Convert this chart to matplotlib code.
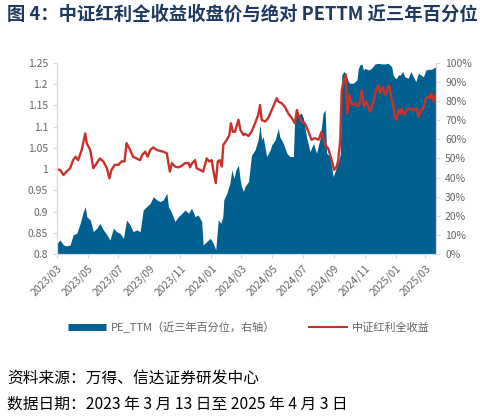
import numpy as np
import pandas as pd
import matplotlib
matplotlib.use("Agg")
import matplotlib.pyplot as plt
from matplotlib.lines import Line2D

plt.rcParams['font.family'] = ['Noto Sans CJK SC', 'DejaVu Sans']

start = pd.Timestamp('2023-03-13')

# 中证红利全收益 (left axis) : days since 2023-03-13, value
red_day = [0, 6, 13, 19, 26, 32, 37, 42, 49, 56, 59, 66, 72, 79, 85, 92, 99, 104, 108, 115,
           122, 128, 134, 138, 145, 151, 158, 165, 169, 175, 180, 185, 191, 198, 204, 211, 218,
           221, 224, 228, 234, 241, 247, 254, 261, 264, 267, 274, 277, 284, 290, 297, 302, 307,
           310, 315, 319, 323, 327, 330, 337, 342, 345, 349, 353, 358, 360, 364, 370, 373, 380,
           386, 393, 399, 403, 406, 413, 419, 426, 433, 436, 439, 446, 452, 459, 466, 472, 476,
           479, 485, 492, 499, 505, 512, 519, 525, 532, 538, 545, 550, 555, 558, 562, 565, 568,
           573, 576, 580, 585, 591, 598, 601, 605, 609, 614, 621, 628, 633, 638, 641, 646, 651,
           654, 659, 664, 667, 671, 674, 677, 681, 684, 689, 694, 700, 707, 714, 717, 722, 727,
           732, 737, 740, 743, 748, 752]
red_val = [0.999, 0.998, 0.986, 0.994, 1.002, 1.021, 1.029, 1.021, 1.045, 1.084, 1.061, 1.045,
           1.002, 1.014, 1.025, 1.018, 1.002, 0.978, 0.998, 1.010, 1.010, 1.018, 1.018, 1.061,
           1.045, 1.029, 1.025, 1.021, 1.033, 1.041, 1.029, 1.045, 1.051, 1.045, 1.043, 1.041,
           1.037, 1.014, 0.994, 1.014, 1.006, 1.004, 1.007, 1.014, 1.014, 1.004, 1.012, 1.021,
           1.002, 0.998, 0.994, 1.025, 1.018, 1.021, 0.998, 0.967, 1.018, 1.021, 1.006, 1.057,
           1.069, 1.080, 1.108, 1.088, 1.088, 1.108, 1.116, 1.092, 1.080, 1.083, 1.078, 1.088,
           1.108, 1.127, 1.151, 1.116, 1.112, 1.120, 1.139, 1.159, 1.167, 1.159, 1.155, 1.147,
           1.131, 1.120, 1.108, 1.139, 1.127, 1.112, 1.108, 1.088, 1.069, 1.073, 1.069, 1.088,
           1.057, 1.049, 1.021, 0.998, 1.006, 1.021, 1.069, 1.186, 1.202, 1.222, 1.131, 1.175,
           1.151, 1.155, 1.147, 1.159, 1.186, 1.147, 1.159, 1.135, 1.159, 1.186, 1.198, 1.179,
           1.194, 1.175, 1.182, 1.198, 1.163, 1.151, 1.120, 1.116, 1.139, 1.131, 1.143, 1.127,
           1.139, 1.143, 1.139, 1.143, 1.122, 1.139, 1.143, 1.167, 1.171, 1.167, 1.179, 1.159,
           1.175]

# PE_TTM 近三年百分位 (right axis, %) : days since 2023-03-13, value
pe_day = [0, 6, 13, 19, 26, 32, 39, 46, 52, 56, 59, 66, 72, 79, 85, 92, 99, 105, 112, 118,
          125, 132, 138, 145, 151, 158, 165, 171, 178, 185, 191, 198, 204, 211, 214, 218, 221,
          228, 234, 241, 247, 254, 261, 267, 274, 280, 287, 290, 297, 304, 310, 315, 320, 325,
          329, 331, 337, 343, 347, 351, 355, 360, 363, 366, 370, 373, 380, 386, 393, 399, 403,
          406, 409, 416, 423, 426, 433, 439, 442, 449, 456, 462, 469, 472, 479, 485, 489, 495,
          502, 509, 515, 522, 528, 532, 535, 542, 548, 555, 558, 562, 565, 569, 573, 578, 581,
          588, 595, 598, 601, 605, 608, 611, 618, 624, 631, 638, 644, 651, 657, 664, 667, 671,
          674, 677, 681, 686, 690, 697, 702, 707, 712, 717, 722, 727, 732, 737, 743, 750, 752]
pe_val = [5.6, 7.3, 4.7, 4.2, 4.7, 10.0, 10.8, 16.0, 22.0, 24.8, 19.6, 17.8, 11.7, 13.5, 16.0,
          12.6, 10.0, 7.3, 13.5, 11.7, 10.8, 8.2, 17.8, 15.2, 11.7, 12.6, 11.7, 23.0, 24.8, 26.5,
          30.0, 28.3, 27.4, 28.3, 30.0, 31.8, 24.8, 21.3, 17.0, 19.6, 21.0, 23.0, 21.3, 24.0,
          19.6, 20.4, 17.0, 4.7, 6.5, 8.2, 5.6, 2.1, 17.8, 16.0, 19.6, 28.3, 31.8, 37.0, 44.0,
          39.6, 44.0, 46.6, 39.6, 35.3, 32.7, 35.3, 37.9, 51.8, 54.5, 59.7, 67.5, 59.7, 61.4,
          51.0, 54.5, 57.1, 59.7, 65.8, 61.4, 57.9, 52.7, 51.0, 51.0, 73.7, 72.8, 73.7, 71.0,
          61.4, 53.6, 57.9, 52.7, 60.6, 73.7, 75.4, 52.7, 51.0, 40.5, 45.7, 48.0, 52.0, 93.7,
          95.5, 94.6, 90.2, 89.4, 89.4, 91.1, 97.2, 99.0, 99.5, 96.3, 97.2, 96.3, 97.2, 99.5,
          99.8, 99.5, 99.5, 99.8, 98.1, 93.7, 92.0, 92.0, 93.7, 93.7, 95.5, 92.8, 92.0, 95.5,
          92.8, 90.2, 94.6, 93.7, 92.8, 96.3, 96.7, 96.7, 97.8, 97.8]

red_dates = start + pd.to_timedelta(red_day, unit='D')
pe_dates = start + pd.to_timedelta(pe_day, unit='D')
end = start + pd.Timedelta(days=752)

blue = '#00608F'
red = '#C8312C'
grey = '#666666'
axis_grey = '#D9D9D9'

fig = plt.figure(figsize=(4.93, 4.17), dpi=100)
ax1 = fig.add_axes([0.1156, 0.391, 0.7688, 0.458])
ax2 = ax1.twinx()
ax1.set_zorder(ax2.get_zorder() + 1)
ax1.patch.set_visible(False)

ax2.fill_between(pe_dates, 0, pe_val, color=blue, linewidth=0)
ax1.plot(red_dates, red_val, color=red, linewidth=1.7)

ax1.set_xlim(start, end)
ax1.set_ylim(0.8, 1.25)
ax2.set_ylim(0, 100)

ax1.set_yticks(np.arange(0.8, 1.2501, 0.05))
ax1.set_yticklabels(['0.8', '0.85', '0.9', '0.95', '1', '1.05', '1.1', '1.15', '1.2', '1.25'])
ax2.set_yticks(np.arange(0, 101, 10))
ax2.set_yticklabels([f'{v}%' for v in range(0, 101, 10)])

tick_dates = pd.date_range(start, end, freq=pd.DateOffset(months=2))
ax1.set_xticks(tick_dates)
ax1.set_xticklabels([d.strftime('%Y/%m') for d in tick_dates], rotation=45,
                    ha='right', rotation_mode='anchor')

for ax in (ax1, ax2):
    ax.spines['top'].set_visible(False)
    for s in ('left', 'right', 'bottom'):
        ax.spines[s].set_color(axis_grey)
        ax.spines[s].set_linewidth(0.8)
    ax.tick_params(colors=axis_grey, labelcolor=grey, labelsize=7.5, length=3, width=0.8)

fig.text(0.015, 0.965, '图 4：中证红利全收益收盘价与绝对 PETTM 近三年百分位', fontsize=13.2,
         fontweight='bold', color='#1F3A60', ha='left', va='center')

handles = [Line2D([], [], color=blue, linewidth=5, solid_capstyle='butt'),
           Line2D([], [], color=red, linewidth=1.5)]
labels = ['PE_TTM（近三年百分位，右轴）', '中证红利全收益']
fig.legend(handles, labels, loc='center', bbox_to_anchor=(0.505, 0.216), ncol=2,
           frameon=False, fontsize=8, labelcolor=grey, handlelength=3.4,
           columnspacing=3.0, handletextpad=0.5)

fig.text(0.015, 0.094, '资料来源：万得、信达证券研发中心', fontsize=11.3, color='black',
         ha='left', va='center')
fig.text(0.015, 0.031, '数据日期：2023 年 3 月 13 日至 2025 年 4 月 3 日', fontsize=11.3,
         color='black', ha='left', va='center')

fig.savefig('out.png', dpi=100)
